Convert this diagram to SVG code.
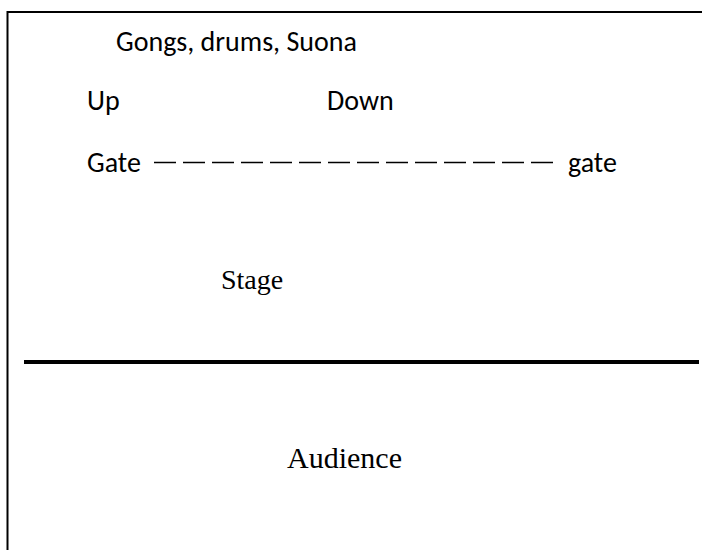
<svg xmlns="http://www.w3.org/2000/svg" width="702" height="550" viewBox="0 0 702 550">
<style>
.sans{font-family:"Carlito","Lato","Liberation Sans",sans-serif;font-size:28px;fill:#000}
.serif{font-family:"Liberation Serif","Times New Roman",serif;font-size:28px;fill:#000}
.frame{stroke:#000;fill:none}
</style>
<rect width="702" height="550" fill="#fff"/>
<g id="frame">
<line class="frame" x1="7.5" y1="12" x2="702" y2="12" stroke-width="2"/>
<line class="frame" x1="7.5" y1="11" x2="7.5" y2="550" stroke-width="2"/>
<line class="frame" x1="24" y1="362" x2="699" y2="362" stroke-width="4"/>
</g>
<g id="instruments"><text class="sans" x="116" y="51">Gongs, drums, Suona</text></g>
<g id="up"><text class="sans" x="87" y="110">Up</text></g>
<g id="down"><text class="sans" x="327" y="110">Down</text></g>
<g id="gate-up"><text class="sans" x="87" y="172">Gate</text></g>
<g id="gate-down"><text class="sans" x="568" y="172">gate</text></g>
<g id="connectors">
<line x1="154" y1="162.5" x2="556" y2="162.5" stroke="#000" stroke-width="1.5" stroke-dasharray="22 7"/>
</g>
<g id="stage"><text class="serif" x="221" y="289">Stage</text></g>
<g id="audience"><text class="serif" x="287" y="468" style="font-size:30px">Audience</text></g>
</svg>
